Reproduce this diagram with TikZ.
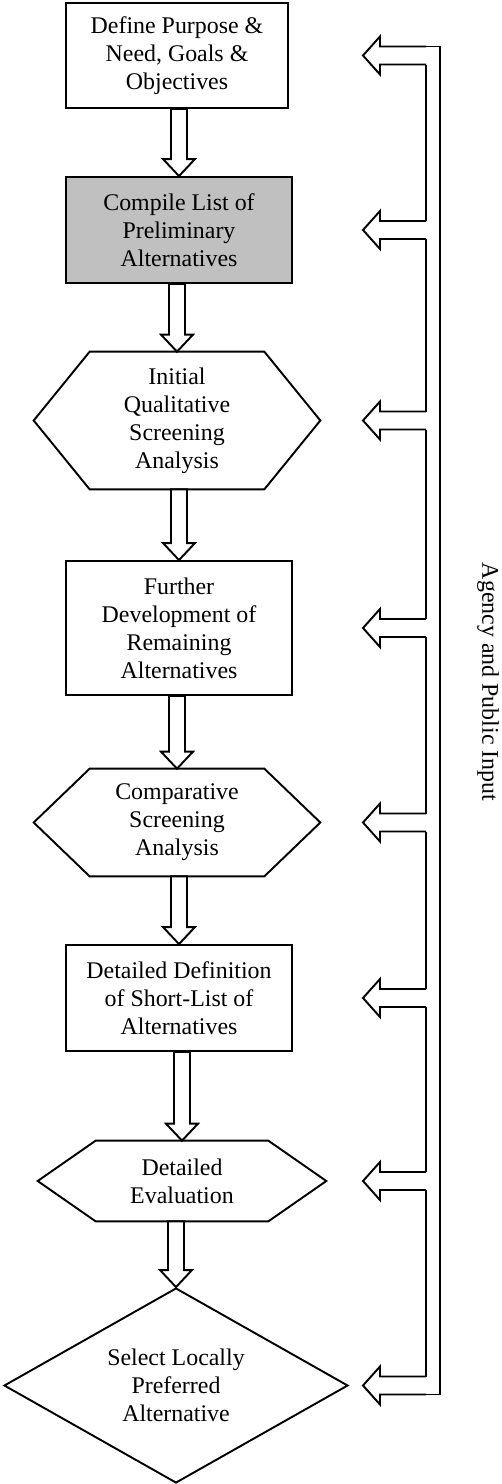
\documentclass[tikz,border=0pt]{standalone}
\usepackage{fontspec}
\setmainfont{Liberation Serif}
\usetikzlibrary{calc,shapes.geometric}
\definecolor{boxgray}{RGB}{192,192,192}
\newcommand{\flowfont}{\fontsize{13.6}{15.9}\selectfont}
\tikzset{
  frame/.style={draw, line width=1.1pt, line join=miter},
  stepbox/.style={frame, rectangle, minimum width=4.52cm, minimum height=2.12cm, align=center, font=\flowfont, inner sep=2pt},
  hexnode/.style={rectangle, align=center, font=\flowfont, inner sep=0pt},
  choice/.style={frame, diamond, aspect=1.76, minimum width=6.88cm, minimum height=3.9cm, align=center, font=\flowfont, inner sep=0pt}
}
\newcommand{\hexframe}[2]{\draw[frame] ([xshift=#2]#1.north west) -- ([xshift=-#2]#1.north east) -- (#1.east) -- ([xshift=-#2]#1.south east) -- ([xshift=#2]#1.south west) -- (#1.west) -- cycle;}
\newcommand{\flowarrow}[2]{\draw[frame, fill=white] let \p1=(#1.south), \p2=(#2.north) in
  (\x2-0.16cm,\y1) -- (\x2+0.16cm,\y1) -- (\x2+0.16cm,\y2+0.34cm) -- (\x2+0.32cm,\y2+0.34cm)
  -- (\x2,\y2) -- (\x2-0.32cm,\y2+0.34cm) -- (\x2-0.16cm,\y2+0.34cm) -- cycle;}
\begin{document}
\begin{tikzpicture}[x=0.02cm, y=-0.02cm]
  \useasboundingbox (0,0) rectangle (501,1484);
  \node[stepbox, minimum width=4.44cm, minimum height=2.1cm] (define) at (177,55.5) {Define Purpose \&\\Need, Goals \&\\Objectives};
  \node[stepbox, fill=boxgray] (compile) at (179,230) {Compile List of\\Preliminary\\Alternatives};
  \node[hexnode, minimum width=5.72cm, minimum height=2.74cm] (initial) at (177,420.5) {Initial\\Qualitative\\Screening\\Analysis};
  \hexframe{initial}{1.12cm}
  \node[stepbox, minimum height=2.68cm] (further) at (179,628) {Further\\Development of\\Remaining\\Alternatives};
  \node[hexnode, minimum width=5.72cm, minimum height=2.14cm] (compare) at (177,822.5) {Comparative\\Screening\\Analysis};
  \hexframe{compare}{1.12cm}
  \node[stepbox] (shortlist) at (179,998) {Detailed Definition\\of Short-List of\\Alternatives};
  \node[hexnode, minimum width=5.76cm, minimum height=1.6cm] (evaluate) at (182,1181) {Detailed\\Evaluation};
  \hexframe{evaluate}{1.16cm}
  \node[choice] (select) at (176,1385.5) {Select Locally\\Preferred\\Alternative};

  \flowarrow{define}{compile}
  \flowarrow{compile}{initial}
  \flowarrow{initial}{further}
  \flowarrow{further}{compare}
  \flowarrow{compare}{shortlist}
  \flowarrow{shortlist}{evaluate}
  \flowarrow{evaluate}{select}

  % input arrows from the right
  \coordinate (inputtip) at (363,0);
  \foreach \n [count=\i] in {define,compile,initial,further,compare,shortlist,evaluate,select}
    \draw[frame] (\n -| inputtip) ++(63,-9) coordinate (top\i) -- ++(-46,0) -- ++(0,-10)
      -- ++(-17,19) -- ++(17,19) -- ++(0,-10) -- ++(46,0) coordinate (bot\i);
  \foreach \i [evaluate=\i as \j using int(\i+1)] in {1,...,7}
    \draw[frame] (bot\i) -- (top\j);
  \draw[frame] (top1) -- ++(14,0) |- (bot8);
  \node[rotate=-90, font=\flowfont] (inputlabel) at (488,682) {Agency and Public Input};
\end{tikzpicture}
\end{document}
